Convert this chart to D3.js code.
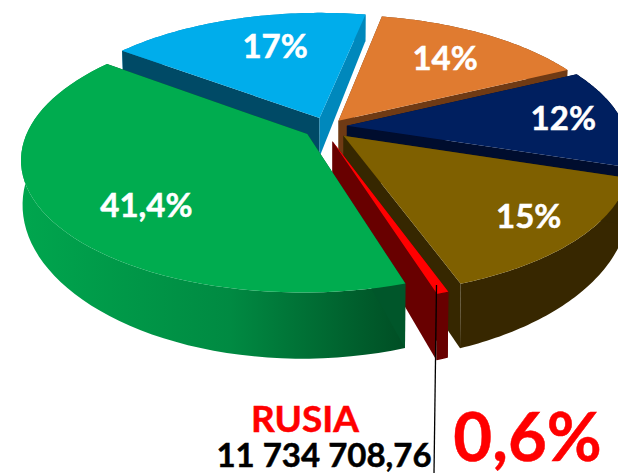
<!DOCTYPE html>
<html>
<head>
<meta charset="utf-8">
<script src="https://cdn.jsdelivr.net/npm/d3@7"></script>
<style>
  html, body { margin: 0; padding: 0; background: #fff; }
  svg { display: block; }
  text { font-family: Lato, "Open Sans", sans-serif; font-weight: 700; text-anchor: middle; stroke-width: 0.5px; }
</style>
</head>
<body>
<div id="chart"></div>
<script>
// Datos
const paises = ["Naranja", "Azul oscuro", "Marrón", "Rusia", "Verde", "Azul"];
const valores = [14, 12, 15, 0.6, 41.4, 17];
const etiquetas = ["14%", "12%", "15%", "", "41,4%", "17%"];
const rusiaNombre = "RUSIA";
const rusiaValor = "11 734 708,76";
const rusiaPct = "0,6%";

// Colores por porción
const colorTapa = ["#e07b30", "#001f5f", "#7f6000", "#ff0000", "#00ac4f", "#00adeb"];
const colorBordeIni = ["#6f3a14", "#000d2e", "#362700", "#680000", "#00562a", "#004a66"];
const colorBordeFin = ["#6f3a14", "#000d2e", "#362700", "#680000", "#00562a", "#0088bc"];
const colorLateral = ["#6f3a14", "#000d2e", "#372700", "#680000", "url(#gradVerde)", "#0088bc"];

// Separación de cada porción, giro de esa separación (grados) y posición de su etiqueta
const explosion = [0.06, 0.065, 0.085, 0.11, 0.095, 0.08];
const giro = [0, 0, 12, 15, 0, -5];
const radioEtiqueta = [0.695, 0.79, 0.81, 0, 0.72, 0.663];
const anguloEtiqueta = [38, 86, 135, 0, 225.5, 343.3];
// Orden de pintado: de atrás hacia adelante
const ordenPintado = [5, 0, 1, 2, 3, 4];

const width = 618, height = 473;
const cx = 329, cy = 127, rx = 278, ry = 127;
const k = 0.18;       // perspectiva
const grosor = 40;    // alto de la pared
const base = 0.995;   // la tapa de abajo se ve algo más chica

const x = d3.scaleLinear().domain([-1, 1]).range([cx - rx, cx + rx]);
const y = d3.scaleLinear().domain([-1, 1]).range([cy - ry, cy + ry]);

function proyectar(u, v, abajo) {
  const s = 1 / (1 - k * v);
  const b = abajo ? base : 1;
  const py = y(v * s * b) + (abajo ? grosor * Math.pow(s, 2.45) : 0);
  return [x(u * s * b), py];
}

// deformación del ángulo por la vista 3D (grados)
function vista(t) {
  const inicio = 10 * Math.PI / 180;
  return t + (1 + 3.3 * Math.sin(t - inicio)) * Math.PI / 180;
}

const svg = d3.select("#chart").append("svg")
  .attr("width", width)
  .attr("height", height);

const grad = svg.append("defs").append("linearGradient")
  .attr("id", "gradVerde")
  .attr("gradientUnits", "userSpaceOnUse")
  .attr("x1", 20).attr("x2", 402).attr("y1", 0).attr("y2", 0);
grad.append("stop").attr("offset", "0%").attr("stop-color", "#00a64e");
grad.append("stop").attr("offset", "55%").attr("stop-color", "#008a42");
grad.append("stop").attr("offset", "100%").attr("stop-color", "#004f25");

const pie = d3.pie().sort(null)
  .startAngle(10 * Math.PI / 180)
  .endAngle((10 + 360) * Math.PI / 180);
const arcos = pie(valores);
const linea = d3.line();

function dibujarPorcion(i) {
  const a = arcos[i];
  const medio = (a.startAngle + a.endAngle) / 2 + giro[i] * Math.PI / 180;
  const ou = explosion[i] * Math.sin(medio);
  const ov = -explosion[i] * Math.cos(medio);
  const pasos = d3.range(0, 61).map(n => vista(a.startAngle + (a.endAngle - a.startAngle) * n / 60));
  const borde = abajo => pasos.map(t => proyectar(ou + Math.sin(t), ov - Math.cos(t), abajo));
  const arriba = borde(false);
  const debajo = borde(true);
  const apiceA = proyectar(ou, ov, false);
  const apiceB = proyectar(ou, ov, true);
  const g = svg.append("g");

  // pared exterior
  g.append("path").attr("fill", colorLateral[i])
    .attr("d", linea(arriba.concat(debajo.slice().reverse())) + "Z");
  // paredes rectas
  g.append("path").attr("fill", colorBordeIni[i])
    .attr("d", linea([apiceA, arriba[0], debajo[0], apiceB]) + "Z");
  g.append("path").attr("fill", colorBordeFin[i])
    .attr("d", linea([apiceA, arriba[60], debajo[60], apiceB]) + "Z");
  // tapa
  g.append("path").attr("fill", colorTapa[i])
    .attr("d", linea([apiceA].concat(arriba)) + "Z");

  if (etiquetas[i]) {
    const t = anguloEtiqueta[i] * Math.PI / 180;
    const m = (a.startAngle + a.endAngle) / 2;
    const p = proyectar(explosion[i] * Math.sin(m) + radioEtiqueta[i] * Math.sin(t),
      -explosion[i] * Math.cos(m) - radioEtiqueta[i] * Math.cos(t), false);
    svg.append("text").attr("class", "etiqueta")
      .attr("x", p[0]).attr("y", p[1] + 11)
      .attr("font-size", 33).attr("fill", "#fff").attr("stroke", "#fff")
      .text(etiquetas[i]);
  }
}

ordenPintado.forEach(dibujarPorcion);
// las etiquetas siempre encima
svg.selectAll("text.etiqueta").raise();

// Línea guía de Rusia
svg.append("line")
  .attr("x1", 436.5).attr("y1", 285).attr("x2", 434).attr("y2", 473)
  .attr("stroke", "#000").attr("stroke-width", 1.3);

svg.append("text").attr("x", 305).attr("y", 432)
  .attr("font-size", 37).attr("fill", "#ff0000").attr("stroke", "#ff0000").text(rusiaNombre);
svg.append("text").attr("x", 324).attr("y", 467)
  .attr("font-size", 33).attr("fill", "#000").attr("stroke", "#000").text(rusiaValor);
svg.append("text").attr("x", 527.5).attr("y", 461)
  .attr("font-size", 67).attr("fill", "#ff0000").attr("stroke", "#ff0000").text(rusiaPct);
</script>
</body>
</html>
